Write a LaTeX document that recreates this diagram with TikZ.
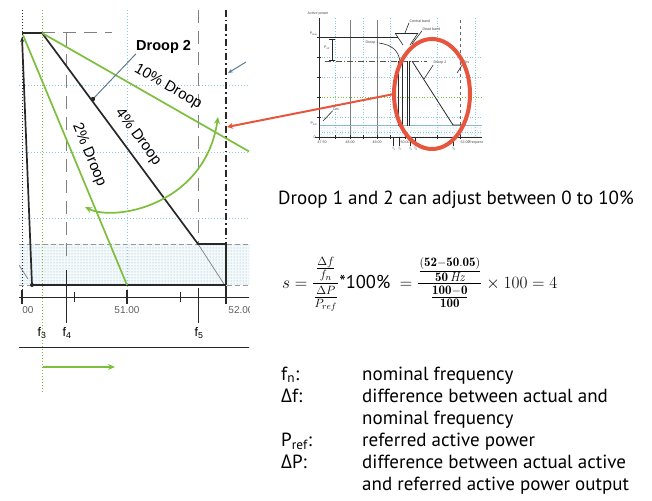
\documentclass[tikz,border=0pt]{standalone}
\usepackage{amsmath}
\usepackage{fontspec}
\usepackage{xcolor}
\usepackage{tikz}
\usetikzlibrary{arrows.meta,positioning,calc,patterns}
\newfontfamily\chartfont{Liberation Sans}
\newfontfamily\notefont{PT Sans}
\newfontfamily\deltafont{Open Sans}

\definecolor{droopgreen}{RGB}{125,190,60}
\definecolor{linkred}{RGB}{232,85,62}
\definecolor{gridblue}{RGB}{140,200,222}
\definecolor{darkline}{RGB}{40,40,40}
\definecolor{leadgray}{RGB}{95,125,145}

\begin{document}
\begin{tikzpicture}[x=1pt, y=-1pt,
    grid_line/.style={gridblue, dotted, line width=1pt},
    dash_line/.style={gray, dash pattern=on 13pt off 8pt, line width=1pt},
    band_edge/.style={gray!80, dash pattern=on 5pt off 3pt, line width=0.8pt},
    black_line/.style={darkline, line width=1.7pt},
    green_line/.style={droopgreen, line width=1.7pt},
    droop_label/.style={font=\chartfont\fontsize{15}{15}\selectfont, inner sep=0pt},
    tick_label/.style={font=\chartfont\fontsize{10}{10}\selectfont, text=darkline!75, inner sep=0pt},
    f_label/.style={font=\chartfont\fontsize{12.5}{12.5}\selectfont, inner sep=0pt},
    note_text/.style={font=\notefont\fontsize{19}{19}\selectfont, anchor=base west, inner sep=0pt},
    tiny_text/.style={font=\chartfont\fontsize{3.6}{3.6}\selectfont, inner sep=0.3pt, text=darkline!85},
    inset_grid/.style={gridblue, dotted, line width=0.6pt},
    inset_line/.style={darkline, line width=0.6pt}
]
\useasboundingbox (0,0) rectangle (652,500);

    % --- Left chart (cropped view) ---
    \coordinate (top_left) at (22,33);
    \coordinate (top_f3) at (42,33);
    \coordinate (knee) at (198,244);
    \coordinate (knee_r) at (226,244);
    \coordinate (base_r) at (226,285);
    \coordinate (base_l) at (32,285);
    \coordinate (two_start) at (23,35);
    \coordinate (two_end) at (127,285);
    \coordinate (ten_end) at (250,152);
    \coordinate (droop2_dot) at (93,99);

    \begin{scope}
    \clip (19,4) rectangle (249,392);
    % shaded band
    \fill[gridblue!10] (19,244) rectangle (250,285);
    \fill[pattern=dots, pattern color=gridblue!70!gray] (19,244) rectangle (250,285);
    \draw[band_edge] (19,244) -- (250,244);
    \draw[band_edge] (19,285) -- (250,285);

    % grid and frequency marks
    \foreach \y in {86,152,218} \draw[grid_line] (19,\y) -- (250,\y);
    \draw[grid_line] (127,10) -- (127,297);
    \draw[darkline, dotted, line width=1pt] (22,10) -- (22,297);
    \draw[droopgreen, dotted, line width=1pt] (42,10) -- (42,392);
    \draw[dash_line] (66,33) -- (66,262);
    \draw[dash_line] (198,10) -- (198,244);
    \draw[dash_line] (42,33) -- (112,33);
    \draw[darkline, line width=1.2pt, dash pattern=on 7pt off 3pt on 1.5pt off 3pt] (226,10) -- (226,297);
    \draw[gray, line width=0.7pt] (knee) -- (224,284);
    \draw[gray, line width=0.7pt] (19,265) -- (28,279);

    % droop curves
    \draw[black_line, -{Stealth[length=5pt, width=4pt]}] (base_l) -- (22,37);
    \draw[black_line] (top_left) -- (top_f3);
    \draw[black_line] (top_f3) -- (knee) -- (knee_r) -- (base_r);
    \draw[black_line] (base_l) -- (base_r);
    \fill[darkline] (base_l) circle (2pt);
    \draw[green_line] (two_start) -- (two_end);
    \draw[green_line] (top_f3) -- (ten_end);
    \draw[green_line, {Stealth[length=7pt, width=6pt]}-{Stealth[length=7pt, width=6pt]}]
        (85,207) .. controls (115,222) and (205,205) .. (218,117);

    % labels on the droops
    \node[droop_label, rotate=-30] (ten_lbl) at (168,87) {10\% Droop};
    \node[droop_label, rotate=-53.5] (four_lbl) at (138,137) {4\% Droop};
    \node[droop_label, rotate=-67.4] (two_lbl) at (89,155) {2\% Droop};
    \node[font=\chartfont\bfseries\fontsize{14.5}{14.5}\selectfont, anchor=west, inner sep=0pt] (droop2_lbl) at (136,47) {Droop 2};
    \draw[leadgray, line width=1pt] (droop2_dot) -- (droop2_lbl.south west);
    \fill[darkline] (droop2_dot) circle (2.2pt);
    \draw[leadgray, line width=1pt, -{Stealth[length=5pt, width=4pt]}] (246,62) -- (228,73);

    % frequency axis
    \draw[darkline, line width=1pt] (19,297) -- (250,297);
    \foreach \x in {22,127,226} \draw[darkline, line width=2pt] (\x,290) -- (\x,304);
    \foreach \x in {74,180} \draw[darkline, line width=0.8pt] (\x,292) -- (\x,302);
    \node[tick_label] (lbl_50) at (28,310) {00};
    \node[tick_label] (lbl_51) at (127,310) {51.00};
    \node[tick_label] (lbl_52) at (241,310) {52.00};
    \draw[darkline, line width=0.9pt] (66,270) -- (66,323);
    \draw[darkline, line width=0.9pt] (198,288) -- (198,323);
    \node[f_label] (f3) at (42,333) {f\textsubscript{3}};
    \node[f_label] (f4) at (67,333) {f\textsubscript{4}};
    \node[f_label] (f5) at (199,333) {f\textsubscript{5}};
    \draw[darkline, line width=0.8pt] (19,347) -- (250,347);
    \draw[green_line, -{Stealth[length=7pt, width=6pt]}] (43,367) -- (115,367);
    \end{scope}

    % --- Inset chart (overview) ---
    \begin{scope}
    \clip (298,4) rectangle (482,156);
    \node[tiny_text] (ax_title) at (318,14) {Active power};
    \foreach \y in {57,77,117,132} \draw[inset_grid] (319,\y) -- (482,\y);
    \draw[droopgreen, dotted, line width=0.7pt] (319,97) -- (482,97);
    \foreach \x in {335,363,390,437,475} \draw[inset_grid] (\x,18) -- (\x,137);
    \foreach \x in {350,377} \draw[darkline!60, line width=0.7pt] (\x,20) -- (\x,137);
    \draw[darkline!70, line width=0.6pt, dashed] (460,20) -- (460,137);
    \fill[pattern=dots, pattern color=gridblue] (319,125) rectangle (482,136);
    \draw[gridblue!80!gray, line width=0.7pt] (319,125) -- (482,125);
    \draw[inset_line, line width=0.8pt] (319,18) -- (319,140);
    \draw[inset_line, line width=0.8pt] (315,137) -- (482,137);
    \foreach \y in {37,57,77,97,117} \draw[inset_line] (317,\y) -- (321,\y);
    \foreach \x in {335,350,363,377,390,405,437,460} \draw[inset_line] (\x,135) -- (\x,139);
    \node[tiny_text, anchor=east] (p_max) at (318,34) {P\textsubscript{max}};
    \node[tiny_text, anchor=east] (p_min) at (318,124) {P\textsubscript{min}};
    \node[tiny_text, anchor=east] (p_zero) at (316,137) {0};
    \draw[inset_line, line width=0.8pt] (319,37) -- (398,37);
    \draw[inset_line] (332,39) -- (332,60);
    \draw[inset_line] (329,39) -- (335,39);
    \draw[inset_line] (329,60) -- (335,60);
    \node[tiny_text] (p_ref) at (327,48) {P\textsubscript{ref}};
    \draw[darkline!80, line width=0.8pt, dash pattern=on 6pt off 2pt on 1pt off 2pt] (325,61) -- (427,61);
    % bands and droops
    \draw[inset_line] (395,33) -- (418,33);
    \draw[inset_line] (395,33) -- (403,45);
    \draw[inset_line] (418,33) -- (410,45);
    \node[tiny_text, anchor=west] (central_lbl) at (409,21) {Central band};
    \draw[inset_line] (central_lbl.south west) -- (405,33);
    \node[tiny_text, anchor=west] (dead_lbl) at (422,29) {Dead band};
    \draw[inset_line] (dead_lbl.south west) -- (412,44);
    \node[tiny_text] (droop1_lbl) at (372,43) {Droop 1};
    \draw[inset_line] (droop1_lbl.east) .. controls (392,45) and (398,50) .. (400,61);
    \foreach \x in {398,402,407,409} \draw[inset_line, line width=0.7pt] (\x,61) -- (\x,126);
    \draw[inset_line, line width=0.8pt] (412,61) -- (453,125) -- (465,125);
    \node[tiny_text] (droop2_inset) at (440,63) {Droop 2};
    \draw[inset_line] (droop2_inset.south west) -- (424,79);
    \node[tiny_text, anchor=west] (s_right) at (463,62) {Drs};
    \draw[inset_line] (s_right.south west) -- (457,73);
    \node[tiny_text] (s_left) at (336,109) {Drs};
    \draw[inset_line] (s_left.south west) -- (323,121);
    % frequency labels
    \foreach \x/\t in {322/47.50, 350/48.00, 377/49.00, 405/50.00, 465/52.00}
        \node[tiny_text] at (\x,142) {\t};
    \node[tiny_text, anchor=west] (freq_lbl) at (468,143) {Frequency [Hz]};
    \foreach \x/\i in {393/1, 399/2, 410/3, 415/4, 453/5} {
        \draw[inset_line] (\x,138) -- (\x,146);
        \node[tiny_text] at (\x+1,149) {f\textsubscript{\i}};
    }
    \end{scope}

    % --- Zoom marker ---
    \draw[linkred, line width=4pt] (432,94) ellipse (38pt and 55pt);
    \draw[linkred, line width=2pt, -{Stealth[length=6pt, width=6pt]}] (394,94) -- (227,127);

    % --- Notes ---
    \node[note_text] (note_adjust) at (278,204) {Droop 1 and 2 can adjust between 0 to 10\%};
    \node[font=\fontsize{18.5}{18.5}\selectfont, anchor=west, inner sep=0pt] (formula) at (282,284)
        {$s=\dfrac{\frac{\Delta f}{f_n}}{\frac{\Delta P}{P_{ref}}}\text{\notefont *100\%}\;=\dfrac{\frac{\mathbf{(52-50.05)}}{\mathbf{50\,\mathit{Hz}}}}{\frac{\mathbf{100-0}}{\mathbf{100}}}\times 100=4$};

    % --- Legend ---
    \node[note_text] (key_fn) at (281,380) {f\textsubscript{n}:};
    \node[note_text] (key_df) at (281,402) {{\deltafont Δ}f:};
    \node[note_text] (key_pref) at (281,446) {P\textsubscript{ref}:};
    \node[note_text] (key_dp) at (281,468) {{\deltafont Δ}P:};
    \node[note_text] (txt_fn) at (362,380) {nominal frequency};
    \node[note_text] (txt_df) at (362,402) {difference between actual and};
    \node[note_text] (txt_df2) at (362,424) {nominal frequency};
    \node[note_text] (txt_pref) at (362,446) {referred active power};
    \node[note_text] (txt_dp) at (362,468) {difference between actual active};
    \node[note_text] (txt_dp2) at (362,490) {and referred active power output};

\end{tikzpicture}
\end{document}
